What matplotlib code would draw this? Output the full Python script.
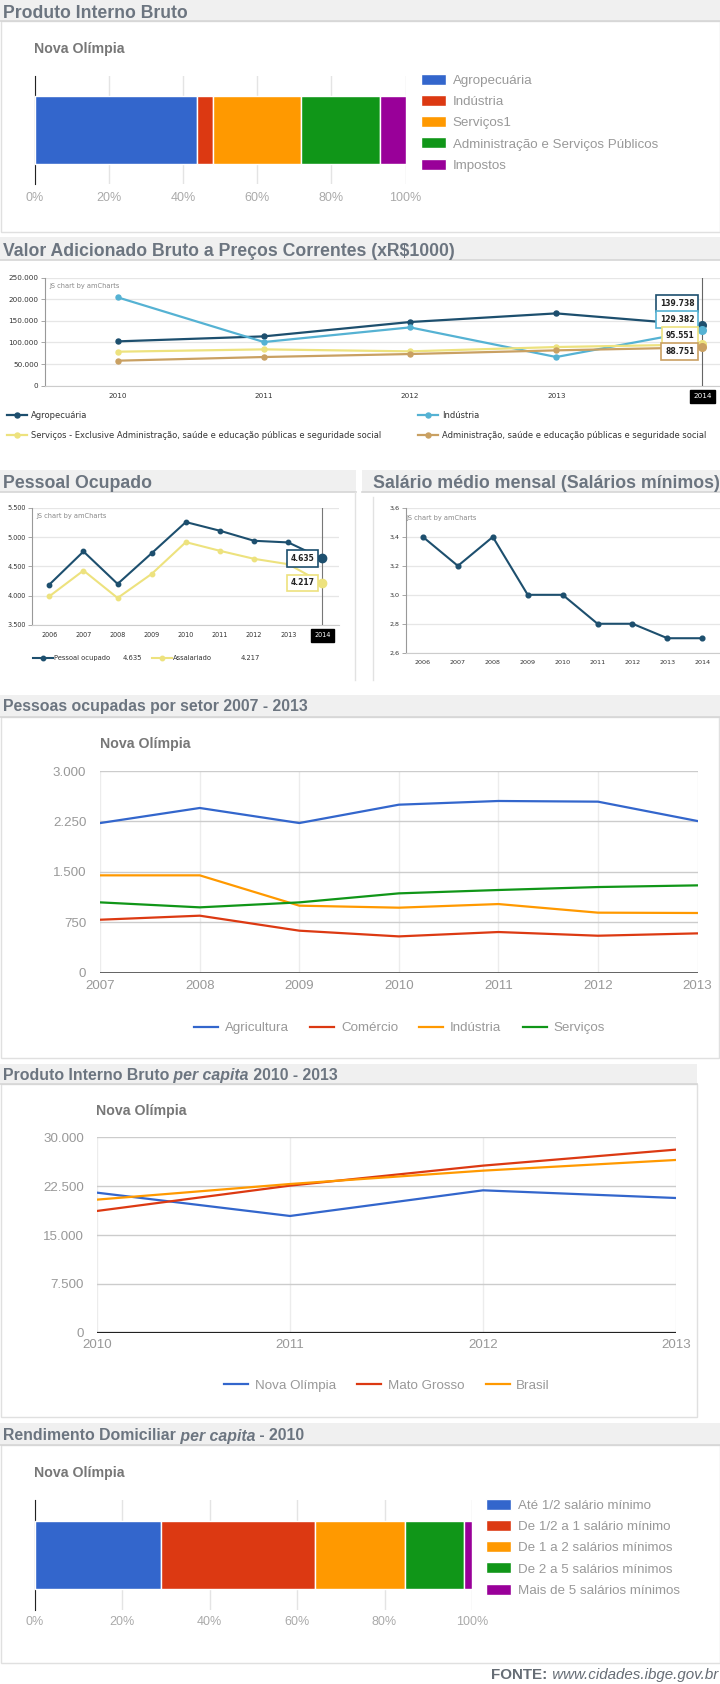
import matplotlib
matplotlib.use("Agg")
import matplotlib.pyplot as plt
from matplotlib.patches import Rectangle
import numpy as np

plt.rcParams['font.family'] = ['Liberation Sans', 'DejaVu Sans']

W, H = 720, 1684

# ---- dados ----
pib_setores = ['Agropecuária', 'Indústria', 'Serviços1',
               'Administração e Serviços Públicos', 'Impostos']
pib_pct = [43.9, 4.1, 23.7, 21.3, 7.0]

vab_anos = [2010, 2011, 2012, 2013, 2014]
vab_agro = [102600, 114200, 147400, 167400, 139738]
vab_ind = [204500, 101100, 135000, 66400, 129382]
vab_serv = [78700, 84100, 79500, 89500, 95551]
vab_adm = [57900, 66400, 73300, 81800, 88751]
vab_nomes = ['Agropecuária', 'Indústria',
             'Serviços - Exclusive Administração, saúde e educação públicas e seguridade social',
             'Administração, saúde e educação públicas e seguridade social']

pess_anos = [2006, 2007, 2008, 2009, 2010, 2011, 2012, 2013, 2014]
pess_ocupado = [4188, 4755, 4199, 4726, 5259, 5110, 4938, 4910, 4635]
pess_assal = [3987, 4428, 3958, 4371, 4915, 4766, 4629, 4537, 4217]

sal_anos = [2006, 2007, 2008, 2009, 2010, 2011, 2012, 2013, 2014]
sal_medio = [3.4, 3.2, 3.4, 3.0, 3.0, 2.8, 2.8, 2.7, 2.7]

setor_anos = [2007, 2008, 2009, 2010, 2011, 2012, 2013]
setor_agri = [2226, 2450, 2226, 2499, 2554, 2544, 2256]
setor_com = [788, 848, 625, 540, 605, 550, 585]
setor_ind = [1448, 1448, 997, 967, 1021, 893, 888]
setor_serv = [1046, 972, 1046, 1180, 1230, 1274, 1299]

pc_anos = [2010, 2011, 2012, 2013]
pc_nova = [21500, 17920, 21860, 20680]
pc_mt = [18690, 22580, 25650, 28110]
pc_br = [20430, 22830, 24880, 26520]

rend_faixas = ['Até 1/2 salário mínimo', 'De 1/2 a 1 salário mínimo',
               'De 1 a 2 salários mínimos', 'De 2 a 5 salários mínimos',
               'Mais de 5 salários mínimos']
rend_pct = [28.8, 35.4, 20.4, 13.6, 1.8]

GOOGLE = ['#3366cc', '#dc3912', '#ff9900', '#109618', '#990099']
NAVY, AZUL, AMAR, OCRE = '#1d4f6e', '#55b2d3', '#ede27e', '#c9a062'
COR_TIT = '#6c7580'


def milhar(v, pos=None):
    return f"{v:,.0f}".replace(",", ".")


def virgula(v, pos=None):
    return f"{v:.1f}".replace(".", ",")


fig = plt.figure(figsize=(W / 100, H / 100), dpi=100)
bg = fig.add_axes([0, 0, 1, 1])
bg.set_xlim(0, W)
bg.set_ylim(H, 0)
bg.axis('off')
rend = fig.canvas.get_renderer()


def eixo(esq, topo, dir, base):
    ax = fig.add_axes([esq / W, 1 - base / H, (dir - esq) / W, (base - topo) / H])
    ax.set_facecolor('none')
    return ax


def pos(x, y):
    return (x / W, 1 - y / H)


def caixa(x0, y0, x1, y1):
    bg.add_patch(Rectangle((x0, y0), x1 - x0, y1 - y0, fc='white', ec='#e0e0e0', lw=1))


def cabecalho(x0, x1, y0, y1, base, partes, tam, xt=3):
    bg.add_patch(Rectangle((x0, y0), x1 - x0, y1 - y0, fc='#f0f0f0', ec='none'))
    bg.plot([x0, x1], [y1, y1], color='#d6d6d6', lw=1.2)
    x = xt
    for txt, estilo in partes:
        t = bg.text(x, base, txt, fontsize=tam, fontweight='bold', style=estilo,
                    color=COR_TIT, ha='left', va='baseline')
        x += t.get_window_extent(rend).width


def subtitulo(x, base):
    bg.text(x, base, 'Nova Olímpia', fontsize=10.2, fontweight='bold',
            color='#777777', ha='left', va='baseline')


def barra_google(ax, valores, nomes, leg_xy):
    esq = np.concatenate([[0], np.cumsum(valores)[:-1]])
    barras = []
    for v, e, c in zip(valores, esq, GOOGLE):
        barras.append(ax.barh(0, v, left=e, height=0.625, color=c,
                              edgecolor='white', lw=1, zorder=3))
    ax.set_xlim(0, 100)
    ax.set_ylim(-0.5, 0.5)
    ax.set_xticks([0, 20, 40, 60, 80, 100], labels=[f"{t}%" for t in [0, 20, 40, 60, 80, 100]])
    ax.set_yticks([])
    ax.grid(axis='x', color='#e4e4e4', lw=1, zorder=0)
    for s in ['top', 'right', 'bottom']:
        ax.spines[s].set_visible(False)
    ax.spines['left'].set_color('#222222')
    ax.tick_params(axis='x', length=0, labelsize=9, labelcolor='#aaaaaa', pad=6)
    fig.legend(barras, nomes, loc='upper left', bbox_to_anchor=pos(*leg_xy),
               bbox_transform=fig.transFigure, frameon=False, borderpad=0,
               borderaxespad=0, fontsize=9.6, labelcolor='#999999',
               handlelength=1.88, handleheight=0.9, handletextpad=0.5,
               labelspacing=0.6)


def estilo_am(ax, tam):
    for s in ['top', 'right']:
        ax.spines[s].set_visible(False)
    ax.spines['left'].set_color('#999999')
    ax.spines['bottom'].set_color('#cccccc')
    ax.grid(axis='y', color='#e6e6e6', lw=0.9)
    ax.set_axisbelow(True)
    ax.tick_params(axis='y', length=3, width=0.6, color='#999999', labelsize=tam,
                   labelcolor='#333333', pad=1.5)
    ax.tick_params(axis='x', length=0, labelsize=tam, labelcolor='#333333', pad=5.5)
    for lab in ax.get_xticklabels() + ax.get_yticklabels():
        lab.set_fontfamily('DejaVu Sans')


def rotulo_am(ax, x, y, cor, dy):
    ax.annotate(milhar(y), xy=(x, y), xytext=(-8, dy), textcoords='offset pixels',
                ha='right', va='center', fontsize=5.5, fontweight='bold',
                family='DejaVu Sans', color='#222222', zorder=6,
                bbox=dict(boxstyle='square,pad=0.5', fc='white', ec=cor, lw=1.2))


def marca_am(ax, x, y):
    ax.text(x, y, 'JS chart by amCharts', transform=ax.transAxes, fontsize=4.8,
            family='DejaVu Sans', color='#888888', ha='left', va='center')


# ---- 1. Produto Interno Bruto ----
caixa(0.5, 21, 719.5, 232)
cabecalho(0, W, 0, 21, 18.5, [('Produto Interno Bruto', 'normal')], 12.7)
subtitulo(34.5, 53.5)
ax1 = eixo(34.5, 76, 405.5, 184)
barra_google(ax1, pib_pct, pib_setores, (421, 74))

# ---- 2. Valor Adicionado Bruto ----
cabecalho(0, W, 237, 260, 256.5,
          [('Valor Adicionado Bruto a Preços Correntes (xR$1000)', 'normal')], 12.7)
ax2 = eixo(44.6, 277.7, W, 385.7)
series = [(vab_agro, NAVY), (vab_ind, AZUL), (vab_serv, AMAR), (vab_adm, OCRE)]
linhas = []
for vals, cor in series:
    l, = ax2.plot(vab_anos, vals, color=cor, lw=1.6, marker='o', ms=3.6, zorder=4)
    ax2.plot(vab_anos[-1], vals[-1], 'o', color=cor, ms=5.5, zorder=5)
    linhas.append(l)
ax2.set_xlim(2009.5, 2014.12)
ax2.set_ylim(0, 250000)
ax2.set_yticks(np.arange(0, 250001, 50000))
ax2.yaxis.set_major_formatter(milhar)
ax2.set_xticks(vab_anos, labels=[str(a) for a in vab_anos])
estilo_am(ax2, 5.2)
lab = ax2.get_xticklabels()[-1]
lab.set_color('white')
lab.set_bbox(dict(boxstyle='square,pad=0.5', fc='black', ec='black'))
ax2.axvline(vab_anos[-1], color='#666666', lw=0.8, zorder=3)
marca_am(ax2, 0.007, 0.92)
for (vals, cor), dy in zip(series, [22, 10, 9, -4]):
    rotulo_am(ax2, vab_anos[-1], vals[-1], cor, dy)
for hs, ns, xl in [([linhas[0], linhas[2]], [vab_nomes[0], vab_nomes[2]], 7),
                   ([linhas[1], linhas[3]], [vab_nomes[1], vab_nomes[3]], 418)]:
    fig.legend(hs, ns, loc='center left', bbox_to_anchor=pos(xl, 425.5),
               bbox_transform=fig.transFigure, frameon=False, borderpad=0,
               borderaxespad=0, handlelength=2.4, handletextpad=0.45,
               labelspacing=1.35, labelcolor='#333333',
               prop={'family': 'DejaVu Sans', 'size': 6.0})

# ---- 3. Pessoal Ocupado ----
cabecalho(0, 356, 470, 492, 488, [('Pessoal Ocupado', 'normal')], 12.8)
bg.plot([355, 355], [492, 680], color='#e2e2e2', lw=1)
ax3 = eixo(32.3, 508, 339.4, 624.7)
p1, = ax3.plot(pess_anos, pess_ocupado, color=NAVY, lw=1.5, marker='o', ms=3.2, zorder=4)
p2, = ax3.plot(pess_anos, pess_assal, color=AMAR, lw=1.5, marker='o', ms=3.2, zorder=4)
ax3.plot(pess_anos[-1], pess_ocupado[-1], 'o', color=NAVY, ms=6, zorder=5)
ax3.plot(pess_anos[-1], pess_assal[-1], 'o', color=AMAR, ms=6, zorder=5)
ax3.set_xlim(2005.5, 2014.5)
ax3.set_ylim(3500, 5500)
ax3.set_yticks(np.arange(3500, 5501, 500))
ax3.yaxis.set_major_formatter(milhar)
ax3.set_xticks(pess_anos, labels=[str(a) for a in pess_anos])
estilo_am(ax3, 4.7)
lab = ax3.get_xticklabels()[-1]
lab.set_color('white')
lab.set_bbox(dict(boxstyle='square,pad=0.5', fc='black', ec='black'))
ax3.axvline(pess_anos[-1], color='#777777', lw=0.8, zorder=3)
marca_am(ax3, 0.012, 0.93)
rotulo_am(ax3, pess_anos[-1], pess_ocupado[-1], NAVY, 0)
rotulo_am(ax3, pess_anos[-1], pess_assal[-1], AMAR, 0)
for h, nome, val, xh, xv in [(p1, 'Pessoal ocupado', pess_ocupado[-1], 33, 123),
                             (p2, 'Assalariado', pess_assal[-1], 152, 241)]:
    fig.legend([h], [nome], loc='center left', bbox_to_anchor=pos(xh, 658),
               bbox_transform=fig.transFigure, frameon=False, borderpad=0,
               borderaxespad=0, handlelength=2.9, handletextpad=0.2,
               labelcolor='#333333', prop={'family': 'DejaVu Sans', 'size': 4.9})
    bg.text(xv, 658, milhar(val), fontsize=4.9, family='DejaVu Sans',
            color='#333333', ha='left', va='center')

# ---- 4. Salário médio mensal ----
cabecalho(362, W, 470, 492, 488, [('Salário médio mensal (Salários mínimos)', 'normal')],
          12.8, xt=373)
bg.plot([373, 373], [497, 680], color='#e2e2e2', lw=1)
ax4 = eixo(405.5, 508, 719.8, 652.7)
ax4.plot(sal_anos, sal_medio, color=NAVY, lw=1.5, marker='o', ms=3.4, zorder=4)
ax4.set_xlim(2005.5, 2014.5)
ax4.set_ylim(2.6, 3.6)
ax4.set_yticks(np.arange(2.6, 3.61, 0.2))
ax4.yaxis.set_major_formatter(virgula)
ax4.set_xticks(sal_anos, labels=[str(a) for a in sal_anos])
estilo_am(ax4, 4.6)
marca_am(ax4, 0.004, 0.93)

# ---- 5. Pessoas ocupadas por setor ----
caixa(0.5, 717, 719, 1058)
cabecalho(0, W, 695, 717, 711.5, [('Pessoas ocupadas por setor 2007 - 2013', 'normal')], 11.4)
subtitulo(100, 748)
ax5 = eixo(100.2, 771, 697.5, 972.7)
ls5 = []
for vals, cor in zip([setor_agri, setor_com, setor_ind, setor_serv], GOOGLE):
    l, = ax5.plot(setor_anos, vals, color=cor, lw=1.6, zorder=4)
    ls5.append(l)
ax5.set_xlim(setor_anos[0], setor_anos[-1])
ax5.set_ylim(0, 3000)
ax5.set_yticks([0, 750, 1500, 2250, 3000])
ax5.yaxis.set_major_formatter(milhar)
ax5.set_xticks(setor_anos)
ax5.grid(axis='y', color='#cccccc', lw=1)
ax5.grid(axis='x', color='#ececec', lw=1)
ax5.axhline(0, color='#555555', lw=2, zorder=3)
for s in ax5.spines.values():
    s.set_visible(False)
ax5.tick_params(axis='y', length=0, labelsize=9.6, labelcolor='#999999', pad=10)
ax5.tick_params(axis='x', length=0, labelsize=9.6, labelcolor='#999999', pad=5)
fig.legend(ls5, ['Agricultura', 'Comércio', 'Indústria', 'Serviços'], loc='center',
           bbox_to_anchor=pos(399.5, 1028), bbox_transform=fig.transFigure, ncol=4,
           frameon=False, borderpad=0, borderaxespad=0, fontsize=9.6,
           labelcolor='#999999', handlelength=1.8, handletextpad=0.5, columnspacing=1.6)

# ---- 6. PIB per capita ----
caixa(0.5, 1084, 697, 1417)
cabecalho(0, 697, 1064, 1084, 1080,
          [('Produto Interno Bruto', 'normal'), (' per capita', 'italic'), (' 2010 - 2013', 'normal')],
          11.4)
subtitulo(96.5, 1115)
ax6 = eixo(97, 1137.3, 676, 1332.7)
ls6 = []
for vals, cor in zip([pc_nova, pc_mt, pc_br], [GOOGLE[0], GOOGLE[1], GOOGLE[2]]):
    l, = ax6.plot(pc_anos, vals, color=cor, lw=1.6, zorder=4)
    ls6.append(l)
ax6.set_xlim(pc_anos[0], pc_anos[-1])
ax6.set_ylim(0, 30000)
ax6.set_yticks([0, 7500, 15000, 22500, 30000])
ax6.yaxis.set_major_formatter(milhar)
ax6.set_xticks(pc_anos)
ax6.grid(axis='y', color='#cccccc', lw=1)
ax6.grid(axis='x', color='#ececec', lw=1)
ax6.axhline(0, color='#222222', lw=1.6, zorder=3)
for s in ax6.spines.values():
    s.set_visible(False)
ax6.tick_params(axis='y', length=0, labelsize=9.6, labelcolor='#999999', pad=9.5)
ax6.tick_params(axis='x', length=0, labelsize=9.6, labelcolor='#999999', pad=4.5)
fig.legend(ls6, ['Nova Olímpia', 'Mato Grosso', 'Brasil'], loc='center',
           bbox_to_anchor=pos(387, 1386), bbox_transform=fig.transFigure, ncol=3,
           frameon=False, borderpad=0, borderaxespad=0, fontsize=9.6,
           labelcolor='#999999', handlelength=1.8, handletextpad=0.5, columnspacing=1.6)

# ---- 7. Rendimento Domiciliar per capita ----
caixa(0.5, 1445, 719.5, 1663)
cabecalho(0, W, 1423, 1445, 1440.5,
          [('Rendimento Domiciliar', 'normal'), (' per capita', 'italic'), (' - 2010', 'normal')],
          11.4)
subtitulo(34.5, 1477)
ax7 = eixo(34.5, 1500, 472, 1610)
barra_google(ax7, rend_pct, rend_faixas, (486, 1499))
ax7.tick_params(axis='x', pad=4.5)

# ---- fonte ----
t = bg.text(718, 1679, ' www.cidades.ibge.gov.br', fontsize=10.9, style='italic',
            color='#666d75', ha='right', va='baseline')
larg = t.get_window_extent(rend).width
bg.text(718 - larg, 1679, 'FONTE:', fontsize=10.9, fontweight='bold',
        color='#666d75', ha='right', va='baseline')

fig.savefig('out.png', dpi=100)
